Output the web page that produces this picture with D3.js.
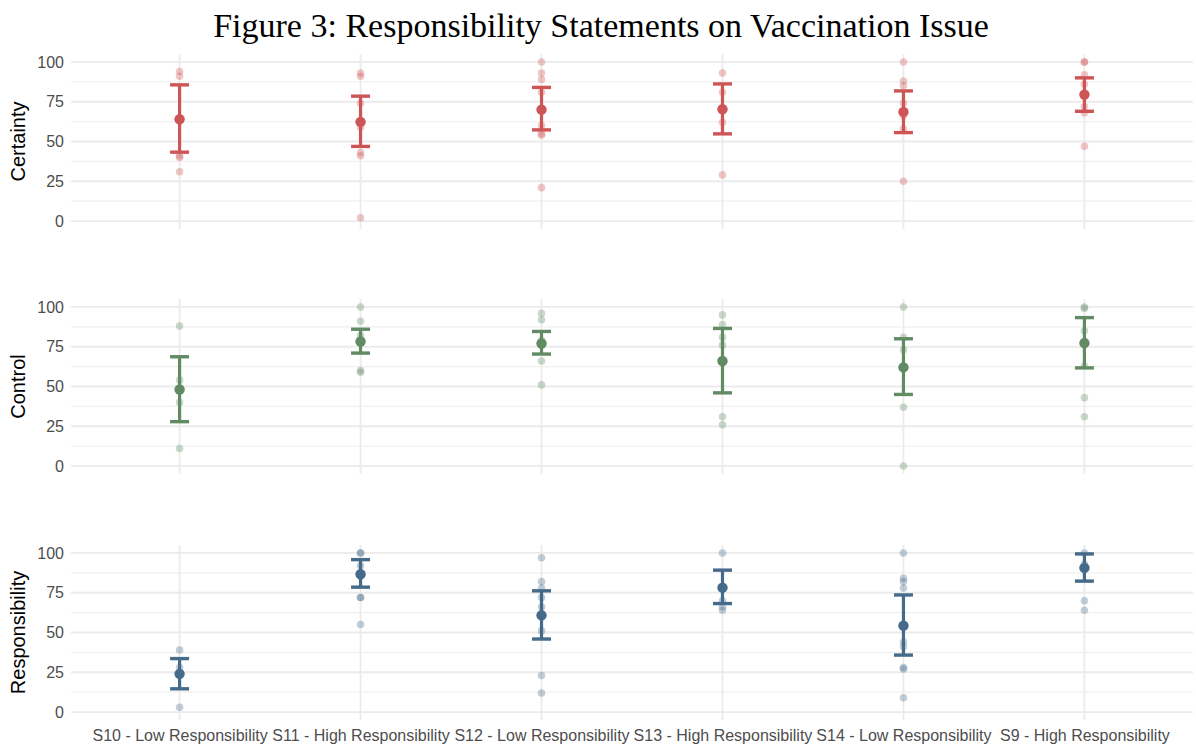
<!DOCTYPE html>
<html>
<head>
<meta charset="utf-8">
<script src="https://cdn.jsdelivr.net/npm/d3@7/dist/d3.min.js"></script>
<style>
  html, body { margin: 0; padding: 0; background: #ffffff; }
  svg { display: block; }
</style>
</head>
<body>
<svg id="chart" width="1196" height="749"></svg>
<script>
// ---------------- DATA ----------------
const categories = [
  "S10 - Low Responsibility",
  "S11 - High Responsibility",
  "S12 - Low Responsibility",
  "S13 - High Responsibility",
  "S14 - Low Responsibility",
  "S9 - High Responsibility"
];
const metrics = ["Certainty", "Control", "Responsibility"];
const yTicks = [0, 25, 50, 75, 100];
const yMinorTicks = [12.5, 37.5, 62.5, 87.5];

// individual responses (one list per statement)
const certaintyPoints = [
  [94, 91, 41, 40, 31],
  [93, 91, 74, 59, 43, 41, 2],
  [100, 93, 89, 81, 60, 55, 54, 21],
  [93, 81, 62, 29],
  [100, 88, 85, 74, 66, 58, 25],
  [100, 100, 92, 86, 72, 68, 47]
];
const certaintyMean  = [64, 62.3, 70, 70.3, 68.6, 79.5];
const certaintyLower = [43.3, 46.9, 57.3, 54.8, 55.6, 69];
const certaintyUpper = [85.6, 78.5, 84, 86.2, 81.8, 90];

const controlPoints = [
  [88, 54, 40, 11],
  [100, 91, 82, 60, 59],
  [96, 92, 79, 66, 51],
  [95, 89, 81, 76, 31, 26],
  [100, 81, 73, 37, 0],
  [100, 99, 85, 63, 43, 31]
];
const controlMean  = [48.1, 78.3, 77, 66, 62, 77.3];
const controlLower = [27.9, 71, 70.4, 46, 45, 61.7];
const controlUpper = [68.7, 86, 84.6, 86.5, 80, 93.3];

const responsibilityPoints = [
  [39, 28, 24, 3],
  [100, 100, 92, 72, 72, 55],
  [97, 82, 78, 72, 66, 51, 23, 12],
  [100, 70, 66, 64],
  [100, 84, 82, 78, 44, 41, 28, 27, 9],
  [100, 93, 70, 64]
];
const responsibilityMean  = [24, 86.6, 60.8, 78.2, 54.3, 90.6];
const responsibilityLower = [14.6, 78.5, 45.9, 68.2, 35.8, 82.3];
const responsibilityUpper = [33.6, 95.8, 76.2, 89.2, 73.6, 99.4];

const panelColors = ["#cd5555", "#628a63", "#456a8a"];

// --------------- LAYOUT ----------------
const svg = d3.select("#chart");
const plotLeft = 71, plotRight = 1193;
const panelTops = [54, 299, 545];
const panelHeight = 175;

const panels = [
  { name: metrics[0], pts: certaintyPoints, mean: certaintyMean, lo: certaintyLower, hi: certaintyUpper, color: panelColors[0] },
  { name: metrics[1], pts: controlPoints, mean: controlMean, lo: controlLower, hi: controlUpper, color: panelColors[1] },
  { name: metrics[2], pts: responsibilityPoints, mean: responsibilityMean, lo: responsibilityLower, hi: responsibilityUpper, color: panelColors[2] }
];

const x = d3.scalePoint().domain(categories).range([plotLeft, plotRight]).padding(0.6);

// Title
svg.append("text")
  .attr("x", 601).attr("y", 37)
  .attr("text-anchor", "middle")
  .attr("font-family", "'Liberation Serif', 'DejaVu Serif', serif")
  .attr("font-size", 34)
  .attr("fill", "#000")
  .text("Figure 3: Responsibility Statements on Vaccination Issue");

panels.forEach((p, pi) => {
  const top = panelTops[pi];
  const y = d3.scaleLinear().domain([-5, 105]).range([top + panelHeight, top]);
  const g = svg.append("g");

  // minor grid
  g.selectAll("line.minor").data(yMinorTicks).join("line")
    .attr("x1", plotLeft).attr("x2", plotRight)
    .attr("y1", d => y(d)).attr("y2", d => y(d))
    .attr("stroke", "#f0f0f0").attr("stroke-width", 1.1);
  // major grid horizontal
  g.selectAll("line.major").data(yTicks).join("line")
    .attr("x1", plotLeft).attr("x2", plotRight)
    .attr("y1", d => y(d)).attr("y2", d => y(d))
    .attr("stroke", "#ebebeb").attr("stroke-width", 1.8);
  // major grid vertical
  g.selectAll("line.vmajor").data(categories).join("line")
    .attr("x1", d => x(d)).attr("x2", d => x(d))
    .attr("y1", top).attr("y2", top + panelHeight)
    .attr("stroke", "#ebebeb").attr("stroke-width", 1.8);

  // y axis
  const yAxis = d3.axisLeft(y).tickValues(yTicks).tickSize(0).tickPadding(7);
  const ag = g.append("g").attr("transform", `translate(${plotLeft},0)`).call(yAxis);
  ag.select(".domain").remove();
  ag.selectAll("text")
    .attr("font-family", "'Liberation Sans', Arial, sans-serif")
    .attr("font-size", 16)
    .attr("fill", "#4d4d4d");

  // y axis title
  g.append("text")
    .attr("transform", `translate(25,${top + panelHeight / 2}) rotate(-90)`)
    .attr("text-anchor", "middle")
    .attr("font-family", "'Liberation Sans', Arial, sans-serif")
    .attr("font-size", 20)
    .attr("fill", "#000")
    .text(p.name);

  // raw points
  const raw = [];
  p.pts.forEach((arr, ci) => arr.forEach(v => raw.push({ c: categories[ci], v })));
  g.selectAll("circle.raw").data(raw).join("circle")
    .attr("cx", d => x(d.c)).attr("cy", d => y(d.v))
    .attr("r", 3.8)
    .attr("fill", p.color).attr("fill-opacity", 0.33);

  // error bars
  const summ = categories.map((c, i) => ({ c, m: p.mean[i], lo: p.lo[i], hi: p.hi[i] }));
  const capW = 9.5;
  g.selectAll("line.eb").data(summ).join("line")
    .attr("x1", d => x(d.c)).attr("x2", d => x(d.c))
    .attr("y1", d => y(d.lo)).attr("y2", d => y(d.hi))
    .attr("stroke", p.color).attr("stroke-width", 3.2);
  g.selectAll("line.capHi").data(summ).join("line")
    .attr("x1", d => x(d.c) - capW).attr("x2", d => x(d.c) + capW)
    .attr("y1", d => y(d.hi)).attr("y2", d => y(d.hi))
    .attr("stroke", p.color).attr("stroke-width", 3.4);
  g.selectAll("line.capLo").data(summ).join("line")
    .attr("x1", d => x(d.c) - capW).attr("x2", d => x(d.c) + capW)
    .attr("y1", d => y(d.lo)).attr("y2", d => y(d.lo))
    .attr("stroke", p.color).attr("stroke-width", 3.4);
  g.selectAll("circle.mean").data(summ).join("circle")
    .attr("cx", d => x(d.c)).attr("cy", d => y(d.m))
    .attr("r", 5.2)
    .attr("fill", p.color);

  // x axis labels under last panel
  if (pi === panels.length - 1) {
    const xAxis = d3.axisBottom(x).tickSize(0).tickPadding(10);
    const xg = g.append("g").attr("transform", `translate(0,${top + panelHeight})`).call(xAxis);
    xg.select(".domain").remove();
    xg.selectAll("text")
      .attr("font-family", "'Liberation Sans', Arial, sans-serif")
      .attr("font-size", 16)
      .attr("fill", "#4d4d4d");
  }
});
</script>
</body>
</html>
